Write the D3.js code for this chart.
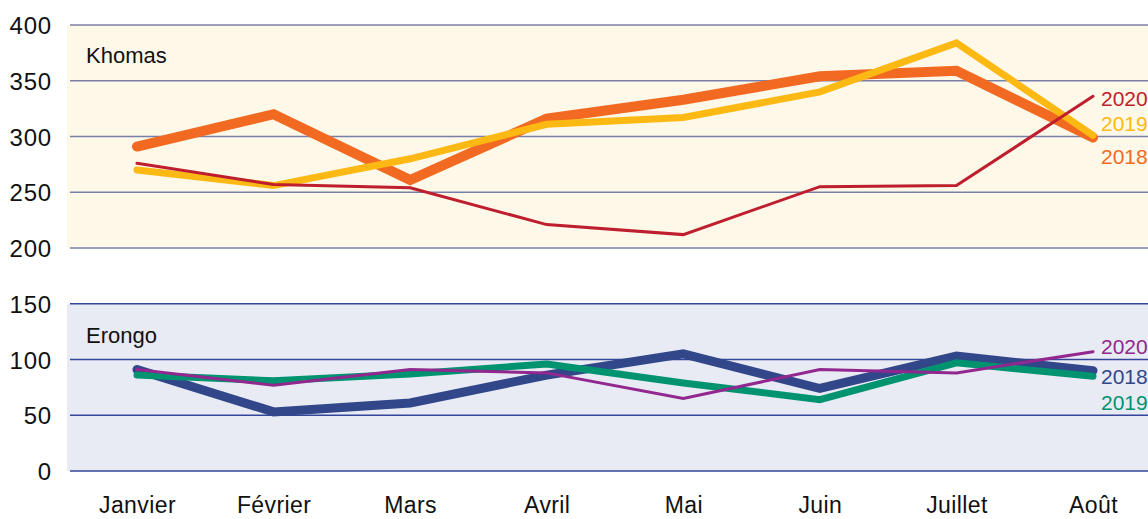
<!DOCTYPE html>
<html><head><meta charset="utf-8">
<script src="https://cdn.jsdelivr.net/npm/d3@7"></script>
<style>
html,body{margin:0;padding:0;background:#fff;}
text{font-family:"Liberation Sans",Arial,Helvetica,sans-serif;}
</style></head>
<body>
<svg id="c" width="1148" height="519"></svg>
<script>
const months = ["Janvier","Février","Mars","Avril","Mai","Juin","Juillet","Août"];
const yTicks = [0,50,100,150,200,250,300,350,400];
const khomas2018 = [291,320,261,316,333,354,359,299];
const khomas2019 = [270,256,280,311,317,340,384,301];
const khomas2020 = [276,257,254,221,212,255,256,336];
const erongo2018 = [91,53,61,86,105,74,103,90];
const erongo2019 = [86,81,87,96,79,64,97,85];
const erongo2020 = [91,77,91,88,65,91,88,107];

const svg = d3.select("#c");
const x = d3.scalePoint().domain(months).range([137,1093]);
const y = d3.scaleLinear().domain([0,400]).range([471,25]);

// panel backgrounds
svg.append("rect").attr("x",67).attr("y",y(400)).attr("width",1148-67).attr("height",y(200)-y(400)).attr("fill","#fdf8e8");
svg.append("rect").attr("x",67).attr("y",y(150)).attr("width",1148-67).attr("height",y(0)-y(150)).attr("fill","#e8ebf3");

// gridlines
svg.append("g").selectAll("line").data(yTicks).join("line")
  .attr("x1",70).attr("x2",1148)
  .attr("y1",d=>y(d)).attr("y2",d=>y(d))
  .attr("stroke",d=>d>=200?"#7880a8":"#34469a").attr("stroke-width",1.3);

// y axis labels
const yAxis = d3.axisLeft(y).tickValues(yTicks).tickSize(0).tickPadding(0);
const ga = svg.append("g").attr("transform","translate(52,0)").call(yAxis);
ga.select(".domain").remove();
ga.selectAll("text").attr("font-size",24).attr("fill","#111").attr("dy","0.36em")
  .style("letter-spacing","0.8px")
  .style("font-family","'Liberation Sans',Arial,sans-serif");

// x axis labels
const xAxis = d3.axisBottom(x).tickSize(0).tickPadding(0);
const gx = svg.append("g").attr("transform","translate(0,505)").call(xAxis);
gx.select(".domain").remove();
gx.selectAll("text").attr("font-size",23).attr("fill","#111").attr("dy","0.36em")
  .style("letter-spacing","0.4px")
  .style("font-family","'Liberation Sans',Arial,sans-serif");

// panel titles
svg.append("text").attr("x",86).attr("y",63).attr("font-size",22).attr("fill","#111").text("Khomas");
svg.append("text").attr("x",86).attr("y",343).attr("font-size",22).attr("fill","#111").text("Erongo");

const line = d3.line().x((d,i)=>x(months[i])).y(d=>y(d));
const series = [
  {data:khomas2020, color:"#be1e2d", w:3, label:"2020", ly:98},
  {data:khomas2019, color:"#fdb913", w:7, label:"2019", ly:123},
  {data:khomas2018, color:"#f26a21", w:10, label:"2018", ly:156},
  {data:erongo2019, color:"#00936f", w:7, label:"2019", ly:402},
  {data:erongo2018, color:"#32468a", w:9, label:"2018", ly:376},
  {data:erongo2020, color:"#92278f", w:3, label:"2020", ly:346}
];
const order = [2,1,0,4,3,5];
order.forEach(i=>{
  const s = series[i];
  svg.append("path").attr("d",line(s.data)).attr("fill","none")
    .attr("stroke",s.color).attr("stroke-width",s.w)
    .attr("stroke-linecap","round").attr("stroke-linejoin","miter");
});
series.forEach(s=>{
  svg.append("text").attr("x",1101).attr("y",s.ly).attr("dy","0.36em")
    .attr("font-size",21).attr("fill",s.color).text(s.label);
});
</script>
</body></html>
